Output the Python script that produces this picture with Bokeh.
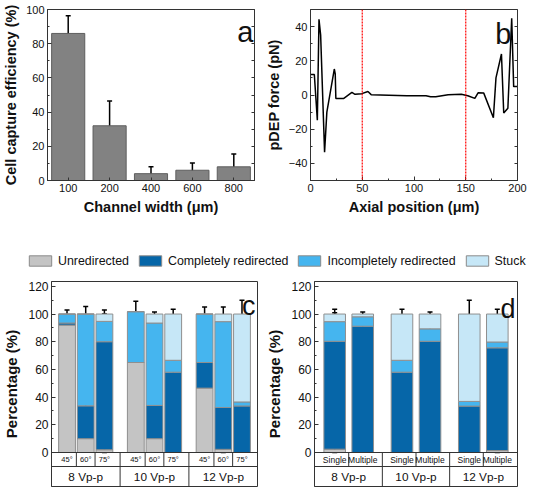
from bokeh.plotting import figure
from bokeh.models import (ColumnDataSource, FactorRange, Range1d, Whisker, TeeHead,
                          LinearAxis, Span, Label, Legend, LegendItem,
                          SingleIntervalTicker, FixedTicker)
from bokeh.layouts import row, column
from bokeh.embed import file_html
from bokeh.resources import INLINE
from bokeh.core.properties import value

FONT = "Liberation Sans"
AXC = "#333333"

# ---------------- data ----------------
# panel a
channel_widths = ["100", "200", "400", "600", "800"]
capture_eff = [86, 32, 4, 6, 8]
capture_err = [10.3, 14.5, 4.0, 4.3, 7.5]

# panel b
axial_pos = [0, 3.7, 6.6, 8.2, 9.8, 13.6, 15.8, 23.0, 23.9, 24.5, 32.2, 40.0, 43.0,
             49.6, 55.5, 58.6, 93, 111.6, 116, 121, 133, 145.7, 152, 158.8, 161.9,
             167.4, 176.7, 179.2, 184.5, 186.7, 190.7, 194.4, 196.3, 200]
pdep_force = [12, 12, -14.8, 44.3, 35, -33.5, -10, 15.2, 12.4, -2, -2, 1.5, 0.4,
              0.8, 2.0, 0.2, -0.4, -0.4, -1, -1, 0.2, 0.4, -0.4, -2, 1.3,
              1.1, -13.3, 10, 24, -10.5, -7.7, 44.9, 4.9, 4.9]
boundary_pos = [50, 150]

# legend categories
categories = ["Unredirected", "Completely redirected", "Incompletely redirected", "Stuck"]
cat_colors = ["#c4c4c4", "#0666a8", "#45b5ef", "#c6e7f7"]

# panel c
volt_groups = ["8 Vp-p", "10 Vp-p", "12 Vp-p"]
angles = ["45°", "60°", "75°"]
c_unred = [92, 10, 2, 65, 10, 0, 46.5, 2.3, 0]
c_complete = [1.5, 23.7, 78, 0, 24, 58, 18.5, 30.2, 33.6]
c_incomplete = [6.5, 66.3, 14.7, 36.7, 59.5, 8.6, 35, 62, 2.9]
c_stuck = [0, 0, 5.3, 0, 6.5, 33.4, 0, 5.5, 63.5]
c_err_center = [[97, 91], [10, 33, 100], [2, 80, 95, 99], [65, 101.7],
                [10, 34, 94, 99.5], [58, 66, 100], [46.5, 64.5, 100],
                [2, 94.5, 99.5], [33, 36, 100]]
c_err_size = [[6, 5], [6, 6, 5.5], [2, 2, 5, 4], [10, 7.5], [1.2, 2, 3, 2],
              [8, 6, 3.5], [8, 3, 5], [2, 5, 5.5], [9, 6, 10]]

# panel d
modes = ["Single", "Multiple"]
d_unred = [2.4, 0, 0, 0, 0, 1.4]
d_complete = [77.9, 91.2, 58, 80.3, 33.5, 74.2]
d_incomplete = [14.2, 6.8, 8.6, 9, 3.4, 4.2]
d_stuck = [5.5, 2, 33.4, 10.7, 63.1, 20.2]
d_err_center = [[2, 80, 95, 99], [91, 99.5], [58, 66, 100], [80, 89, 99.5],
                [33, 37, 100], [1.5, 77, 79.5, 100]]
d_err_size = [[2, 2, 6, 4.5], [1.5, 2], [8, 6, 3.5], [3.5, 4, 2],
              [8.5, 5, 10], [1.5, 2, 3, 3.5]]

pct_ticks = list(range(0, 121, 20))


# ---------------- helpers ----------------
def base_fig(**kw):
    p = figure(output_backend="svg", toolbar_location=None, **kw)
    p.grid.visible = False
    p.outline_line_color = AXC
    p.outline_line_width = 1
    return p


def style_axis(ax, tick_size, label_size, label_standoff=4):
    ax.major_label_text_font = FONT
    ax.major_label_text_font_size = tick_size
    ax.major_label_text_color = "#111111"
    ax.axis_label_text_font = FONT
    ax.axis_label_text_font_style = "bold"
    ax.axis_label_text_font_size = label_size
    ax.axis_label_text_color = "#111111"
    ax.axis_label_standoff = label_standoff
    ax.major_label_standoff = 3
    ax.major_tick_in = 4
    ax.major_tick_out = 0
    ax.minor_tick_in = 2
    ax.minor_tick_out = 0
    ax.axis_line_color = AXC
    ax.major_tick_line_color = AXC
    ax.minor_tick_line_color = AXC


def mirror_ticks(p, side, positions):
    ax = LinearAxis(ticker=FixedTicker(ticks=[], minor_ticks=positions))
    ax.minor_tick_in = 3
    ax.minor_tick_out = 0
    ax.major_tick_in = 0
    ax.major_tick_out = 0
    ax.axis_line_color = AXC
    ax.minor_tick_line_color = AXC
    p.add_layout(ax, side)


def letter(p, text, x, y, size):
    p.add_layout(Label(x=x, y=y, x_units="screen", y_units="screen", text=text,
                       text_font=FONT, text_font_size=size, text_align="right",
                       text_baseline="alphabetic", text_color="#111111"))


TOP_H = 218
LEG_H = 60
BOT_H = 209
PLOT_PX = 171    # frame px of the 0..YMAX part
TAB_PX = 34      # frame px of the category table
LOW_ROW_PX = 20  # px of the lower table row
YMAX = 123.5

# ---------------- panel a ----------------
pa = base_fig(width=262, height=TOP_H, x_range=FactorRange(*channel_widths),
              y_range=Range1d(0, 100), min_border_left=44, min_border_right=8,
              min_border_top=9, min_border_bottom=38)
src_a = ColumnDataSource(dict(x=channel_widths, top=capture_eff,
                              lo=[v - e for v, e in zip(capture_eff, capture_err)],
                              hi=[v + e for v, e in zip(capture_eff, capture_err)]))
pa.vbar(x="x", top="top", width=0.8, source=src_a, fill_color="#828282",
        line_color="#5e5e5e", line_width=1)
pa.add_layout(Whisker(base="x", lower="lo", upper="hi", source=src_a, line_width=1.5,
                      upper_head=TeeHead(size=5, line_width=1.5),
                      lower_head=TeeHead(size=5, line_width=1.5)))
pa.yaxis.ticker = SingleIntervalTicker(interval=20, num_minor_ticks=2)
pa.yaxis.axis_label = "Cell capture efficiency (%)"
pa.xaxis.axis_label = "Channel width (μm)"
for ax in pa.axis:
    style_axis(ax, "11px", "14.5px")
pa.xaxis.major_tick_in = 3
mirror_ticks(pa, "right", list(range(0, 101, 10)))
letter(pa, "a", 206, 149, "29px")

# ---------------- panel b ----------------
pb = base_fig(width=265, height=TOP_H, x_range=Range1d(0, 200), y_range=Range1d(-50, 50),
              min_border_left=46, min_border_right=10, min_border_top=9,
              min_border_bottom=38)
pb.line(axial_pos, pdep_force, line_color="black", line_width=1.5)
for pos in boundary_pos:
    pb.add_layout(Span(location=pos, dimension="height", line_color="red",
                       line_dash="2 1", line_width=1.2))
pb.xaxis.ticker = SingleIntervalTicker(interval=50, num_minor_ticks=2)
pb.yaxis.ticker = SingleIntervalTicker(interval=20, num_minor_ticks=2)
pb.yaxis.axis_label = "pDEP force (pN)"
pb.xaxis.axis_label = "Axial position (μm)"
for ax in pb.axis:
    style_axis(ax, "11px", "14.5px")
mirror_ticks(pb, "right", list(range(-40, 41, 10)))
letter(pb, "b", 201, 147, "29px")

# ---------------- legend ----------------
lf = figure(width=527, height=LEG_H, x_range=FactorRange(*categories),
            y_range=Range1d(1, 2), output_backend="svg", toolbar_location=None,
            x_axis_location=None, y_axis_location=None, min_border=0,
            outline_line_color=None)
lf.grid.visible = False
items = []
for name, col in zip(categories, cat_colors):
    r = lf.vbar(x=[name], top=[0], width=0.5, fill_color=col, line_color="#8a8a8a")
    items.append(LegendItem(label=name, renderers=[r]))
leg = Legend(items=items, orientation="horizontal", location=(26, 10),
             glyph_width=28, glyph_height=13, label_height=15, label_standoff=4,
             spacing=7, padding=0, margin=0, border_line_color=None,
             background_fill_alpha=0, label_text_font=FONT,
             label_text_font_size="12.4px", label_text_color="#111111")
lf.add_layout(leg, "center")


# ---------------- stacked panels ----------------
def stacked_panel(groups, subs, segs, err_c, err_s, width, bl, br, gpad, rpad,
                  bar_w, sub_font, let, let_xy):
    factors = [(g, s) for g in groups for s in subs]
    xr = FactorRange(*factors, group_padding=gpad, range_padding=rpad,
                     range_padding_units="absolute")
    ybot = -TAB_PX * YMAX / PLOT_PX
    ysplit = ybot + LOW_ROW_PX * YMAX / PLOT_PX
    p = base_fig(width=width, height=BOT_H, x_range=xr, y_range=Range1d(ybot, YMAX),
                 min_border_left=bl, min_border_right=br, min_border_top=3,
                 min_border_bottom=1, x_axis_location=None)
    keys = ["unred", "complete", "incomplete", "stuck"]
    data = dict(x=factors)
    for k, v in zip(keys, segs):
        data[k] = v
    p.vbar_stack(keys, x="x", width=bar_w, fill_color=cat_colors, line_color="#8f8f8f",
                 line_width=1, source=ColumnDataSource(data))
    ex, elo, ehi = [], [], []
    for f, cs, ss in zip(factors, err_c, err_s):
        for c, s in zip(cs, ss):
            ex.append(f)
            elo.append(c - s)
            ehi.append(c + s)
    esrc = ColumnDataSource(dict(x=ex, lo=elo, hi=ehi))
    p.add_layout(Whisker(base="x", lower="lo", upper="hi", source=esrc, line_width=1.5,
                         line_color="black",
                         upper_head=TeeHead(size=5, line_width=1.5),
                         lower_head=TeeHead(size=5, line_width=1.5)))
    minor = [t + 10 for t in pct_ticks[:-1]]
    p.yaxis.ticker = FixedTicker(ticks=pct_ticks, minor_ticks=minor)
    p.yaxis.axis_label = "Percentage (%)"
    for ax in p.axis:
        style_axis(ax, "12px", "15px", label_standoff=5)
    letter(p, let, let_xy[0], let_xy[1] + TAB_PX, "27px")

    # category table under the bars
    p.add_layout(Span(location=0, dimension="width", line_color=AXC, line_width=1))
    p.add_layout(Span(location=ysplit, dimension="width", line_color=AXC, line_width=1))
    sx, sy0, sy1 = [], [], []
    for gi, g in enumerate(groups):
        for s in subs[:-1]:
            sx.append((g, s, 0.5))
            sy0.append(ysplit)
            sy1.append(0)
        if gi < len(groups) - 1:
            sx.append((g, subs[-1], 0.5 + gpad / 2))
            sy0.append(ybot)
            sy1.append(0)
    p.segment(x0=sx, y0=sy0, x1=sx, y1=sy1, line_color=AXC, line_width=1)
    p.text(x=factors, y=[ysplit / 2] * len(factors),
           text=[f[1] for f in factors], text_font=value(FONT),
           text_font_size=sub_font, text_align="center", text_baseline="middle",
           text_color="#111111")
    p.text(x=groups, y=[(ysplit + ybot) / 2] * len(groups), text=groups,
           text_font=value(FONT), text_font_size="11.8px", text_align="center",
           text_baseline="middle", text_color="#111111")
    return p


pc = stacked_panel(volt_groups, angles, [c_unred, c_complete, c_incomplete, c_stuck],
                   c_err_center, c_err_size, 263, 44, 6, 0.68, 0.33, 0.9, "7.5px",
                   "c", (204, 147))
pd_ = stacked_panel(volt_groups, modes, [d_unred, d_complete, d_incomplete, d_stuck],
                    d_err_center, d_err_size, 264, 43, 10, 0.4, 0.22, 0.77, "8.5px",
                    "d", (201, 144))

layout = column(row(pa, pb), lf, row(pc, pd_))

open("out.html", "w").write(file_html(layout, INLINE))
